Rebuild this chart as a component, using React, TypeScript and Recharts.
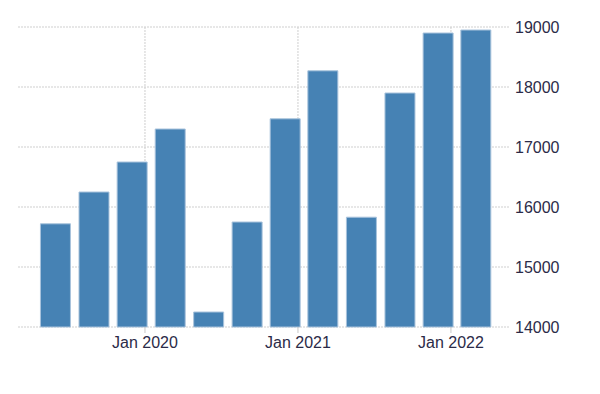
import { Bar, BarChart, CartesianGrid, XAxis, YAxis } from "recharts";

// quarterly values, plotted at the first day of the quarter's last month
const dates = [
  "2019-06-01", "2019-09-01", "2019-12-01", "2020-03-01",
  "2020-06-01", "2020-09-01", "2020-12-01", "2021-03-01",
  "2021-06-01", "2021-09-01", "2021-12-01", "2022-03-01",
];
const values = [15720, 16250, 16750, 17300, 14250, 15750, 17470, 18270, 15830, 17900, 18900, 18950];
const yearTicks = [2020, 2021, 2022];
const valueTicks = [14000, 15000, 16000, 17000, 18000, 19000];

const toYear = (s: string) => {
  const d = new Date(s + "T00:00:00Z");
  const y = d.getUTCFullYear();
  const start = Date.UTC(y, 0, 1);
  const end = Date.UTC(y + 1, 0, 1);
  return y + (d.getTime() - start) / (end - start);
};

const chartData = dates.map((d, i) => ({ t: toYear(d), value: values[i] }));

const FONT = "'Liberation Sans', Arial, sans-serif";

export default function App() {
  return (
    <div style={{ position: "absolute", left: 0, top: 0, background: "#fff" }}>
      <BarChart
        width={600}
        height={394}
        data={chartData}
        margin={{ top: 27, right: 0, left: 18, bottom: 0 }}
      >
        {/* syncWithTicks: no extra lines at the plot edges */}
        <CartesianGrid stroke="#cfcfcf" strokeDasharray="2 1" syncWithTicks />
        <XAxis
          dataKey="t"
          type="number"
          domain={[2019.17, 2022.386]}
          allowDataOverflow
          ticks={yearTicks}
          tickFormatter={(v: number) => `Jan ${v}`}
          height={67}
          axisLine={false}
          tickLine={{ stroke: "#c8c8c8" }}
          tickSize={6}
          tickMargin={4}
          tick={{ fontSize: 16, fill: "#2b2b48", fontFamily: FONT }}
        />
        <YAxis
          orientation="right"
          domain={[14000, 19000]}
          ticks={valueTicks}
          width={90}
          axisLine={false}
          tickLine={false}
          tickSize={0}
          tickMargin={5}
          tick={{ fontSize: 16, fill: "#2b2b48", fontFamily: FONT }}
        />
        <Bar
          dataKey="value"
          barSize={30}
          fill="#4682b4"
          stroke="#a9c3dc"
          strokeWidth={1}
          isAnimationActive={false}
        />
      </BarChart>
    </div>
  );
}
